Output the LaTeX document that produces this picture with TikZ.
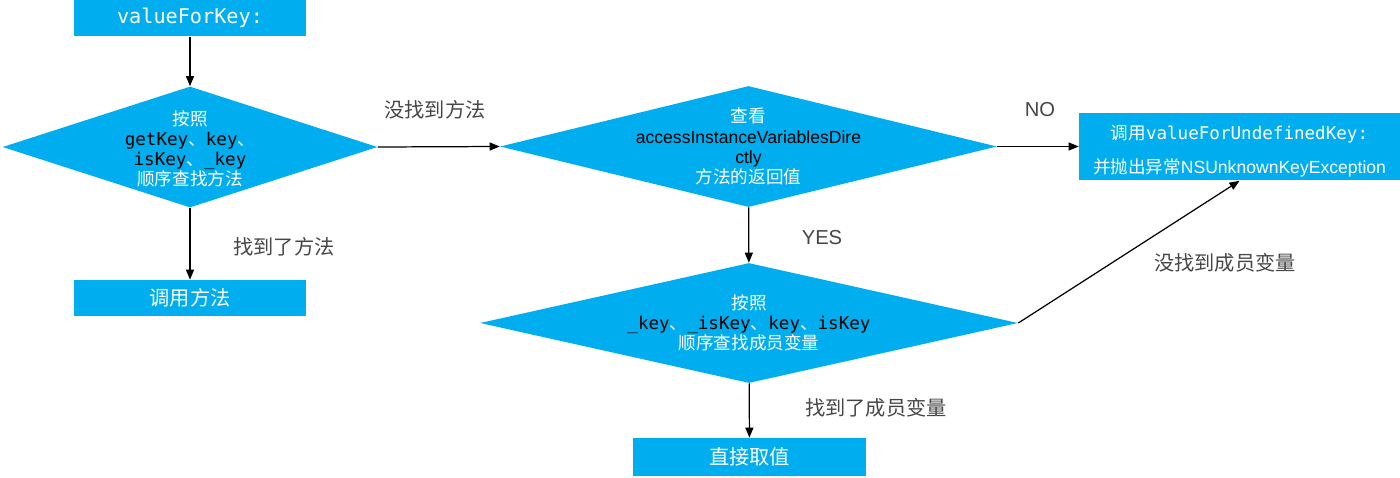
\documentclass[tikz,border=0pt]{standalone}
\usepackage{fontspec}
\setmainfont{Liberation Sans}
\setmonofont{DejaVu Sans Mono}
\newfontfamily\cjk{Noto Sans CJK SC}
\usetikzlibrary{shapes.geometric, arrows.meta}
\definecolor{kvcblue}{RGB}{0,174,239}
\definecolor{lblgray}{RGB}{70,70,70}
\newcommand{\zh}[1]{{\cjk #1}}
\newcommand{\kw}[1]{{\ttfamily\color{black}#1}}

\begin{document}
\begin{tikzpicture}[
  x=0.02cm, y=-0.02cm,
  font=\fontsize{10}{11.5}\selectfont,
  >={Triangle[length=2mm, width=1.6mm]},
  box/.style     ={fill=kvcblue, inner sep=0pt, minimum width=4.66cm, minimum height=0.74cm, text=white, align=center},
  decision/.style={diamond, fill=kvcblue, inner sep=0pt, minimum height=2.42cm},
  inside/.style  ={align=center, inner sep=0pt, text=white},
  lbl/.style     ={text=lblgray, font=\fontsize{11.5}{13}\selectfont, inner sep=0pt},
  arr/.style     ={->, line width=0.7pt},
]
\useasboundingbox (0,0) rectangle (1400,477);

% ---- left column: look up accessor methods ----
\node[box, font=\ttfamily\fontsize{11.5}{13}\selectfont] (start) at (190,18) {valueForKey:};
\node[decision, minimum width=7.5cm] (findm) at (190,147) {};
\node[inside] (findmtxt) at ([yshift=-1pt]findm.center)
  {\zh{按照}\\\kw{getKey}\zh{、}\kw{key}\zh{、}\\\kw{isKey}\zh{、}\kw{\_key}\\\zh{顺序查找方法}};
\node[box, minimum height=0.72cm, font=\fontsize{11.5}{13}\selectfont] (callm) at (190,298) {\zh{调用方法}};

\draw[arr] (start) -- (findm);
\draw[arr] (findm) -- (callm);
\node[lbl] (foundm) at (284,247) {\zh{找到了方法}};

% ---- middle column: direct ivar access ----
\node[decision, minimum width=9.94cm] (access) at (748.5,146.5) {};
\node[inside] (accesstxt) at (access.center)
  {\zh{查看}\\\textcolor{black}{accessInstanceVariablesDire}\\\textcolor{black}{ctly}\\\zh{方法的返回值}};
\node[decision, minimum width=10.76cm, minimum height=2.4cm] (findv) at (749,323) {};
\node[inside] (findvtxt) at (findv.center)
  {\zh{按照}\\\kw{\_key}\zh{、}\kw{\_isKey}\zh{、}\kw{key}\zh{、}\kw{isKey}\\\zh{顺序查找成员变量}};
\node[box, minimum height=0.76cm, font=\fontsize{11.5}{13}\selectfont] (getv) at (749.5,457) {\zh{直接取值}};

\draw[arr] (findm.east) -- (access.west);
\node[lbl] (nomethod) at (435,110) {\zh{没找到方法}};
\draw[arr] (access) -- (findv);
\node[lbl] (yes) at (822,238) {YES};
\draw[arr] (findv) -- (getv);
\node[lbl] (foundv) at (876,408) {\zh{找到了成员变量}};

% ---- right: undefined key ----
\node[box, minimum width=6.42cm, minimum height=1.36cm, font=\fontsize{10}{19}\selectfont] (undef) at (1239.5,146.5)
  {\rule{0pt}{13.5pt}\zh{调用}\texttt{valueForUndefinedKey:}\\\zh{并抛出异常}NSUnknownKeyException};

\draw[arr] (access.east) -- (undef.west);
\node[lbl] (no) at (1040,110) {NO};
\draw[arr] (findv.east) -- (undef.south);
\node[lbl] (novar) at (1225,263) {\zh{没找到成员变量}};

\end{tikzpicture}
\end{document}
